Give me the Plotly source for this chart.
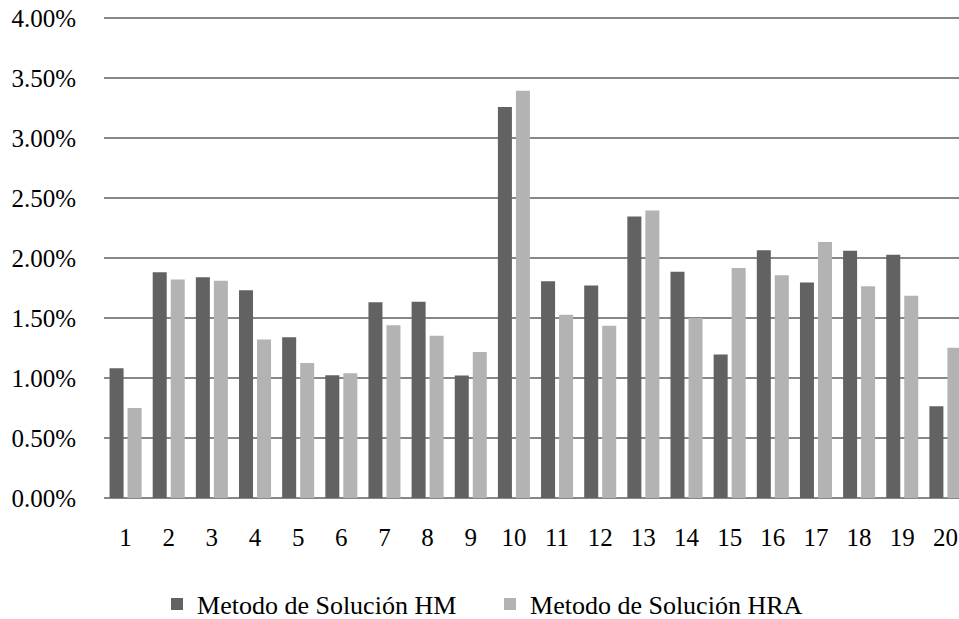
import plotly.graph_objects as go

categories = [str(i) for i in range(1, 21)]
hm_values = [1.081, 1.881, 1.839, 1.731, 1.339, 1.022, 1.631, 1.636, 1.020, 3.258,
             1.806, 1.770, 2.345, 1.886, 1.195, 2.064, 1.795, 2.061, 2.028, 0.764]
hra_values = [0.750, 1.820, 1.810, 1.320, 1.125, 1.039, 1.439, 1.353, 1.217, 3.394,
              1.528, 1.436, 2.395, 1.500, 1.916, 1.856, 2.133, 1.764, 1.686, 1.253]
series_names = ["Metodo de Solución HM", "Metodo de Solución HRA"]
y_ticks = [0, 0.005, 0.01, 0.015, 0.02, 0.025, 0.03, 0.035, 0.04]

FONT = "Liberation Serif, Times New Roman, DejaVu Serif, serif"

fig = go.Figure()
fig.add_trace(go.Bar(x=categories, y=[v / 100 for v in hm_values], name=series_names[0],
                     marker=dict(color="#626262", line=dict(width=0))))
fig.add_trace(go.Bar(x=categories, y=[v / 100 for v in hra_values], name=series_names[1],
                     marker=dict(color="#b3b3b3", line=dict(width=0))))

fig.update_layout(
    width=959, height=619,
    margin=dict(l=104, r=0, t=16, b=121, autoexpand=False),
    paper_bgcolor="white", plot_bgcolor="white",
    barmode="group", bargap=0.165, bargroupgap=0.222,
    font=dict(family=FONT, size=25, color="black"),
    showlegend=True,
    legend=dict(orientation="h", x=0.062, xanchor="left", xref="paper",
                y=0.0242, yanchor="middle", yref="container",
                font=dict(family=FONT, size=26, color="black"),
                entrywidth=288, entrywidthmode="pixels", traceorder="normal"),
)
fig.update_xaxes(type="category", range=[-0.5, 19.315], showgrid=False, showline=False,
                 zeroline=False, ticks="", ticklabelstandoff=22, automargin=False,
                 ticklabeloverflow="allow",
                 tickfont=dict(family=FONT, size=25, color="black"))
fig.update_yaxes(range=[0, 0.0401667], tickvals=y_ticks, tickformat=".2%", showgrid=True,
                 gridcolor="#878787", gridwidth=1.5, zeroline=True, zerolinecolor="#878787",
                 zerolinewidth=1.5, showline=False, ticks="", ticklabelstandoff=27,
                 automargin=False, ticklabeloverflow="allow",
                 tickfont=dict(family=FONT, size=25, color="black"))

fig.write_html("out.html",
               config={"displayModeBar": False, "staticPlot": True},
               post_script="document.body.style.margin='0';document.body.style.overflow='hidden';")
